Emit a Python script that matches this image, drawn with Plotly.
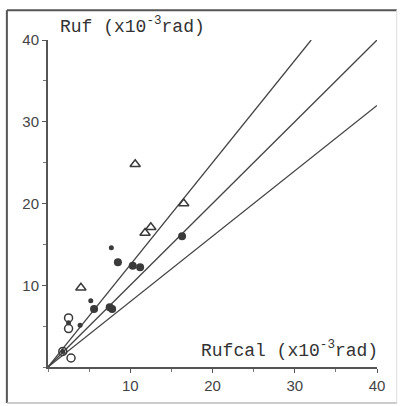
import plotly.graph_objects as go

# Data (x: Rufcal, y: Ruf, both x10^-3 rad)
tri_x = [4.0, 10.6, 11.8, 12.5, 16.5]
tri_y = [9.7, 24.8, 16.4, 17.1, 20.0]

big_x = [8.5, 10.3, 11.2, 16.3, 5.6, 7.5, 7.8]
big_y = [12.8, 12.4, 12.2, 16.0, 7.1, 7.3, 7.1]

small_x = [7.7, 5.2, 3.9, 2.5, 1.8]
small_y = [14.6, 8.1, 5.1, 5.4, 1.9]

open_x = [2.5, 2.5, 1.8, 2.8]
open_y = [6.0, 4.7, 1.9, 1.1]

line_slopes = [1.25, 1.0, 0.8]
line_xend = [32, 40, 40]

x_ticks = [10, 20, 30, 40]
y_ticks = [10, 20, 30, 40]

INK = "#3a3a3a"

fig = go.Figure()

for s, xe in zip(line_slopes, line_xend):
    fig.add_trace(go.Scatter(x=[0, xe], y=[0, s * xe], mode="lines",
                             line=dict(color="#444", width=1.3),
                             hoverinfo="skip", showlegend=False))

fig.add_trace(go.Scatter(x=tri_x, y=tri_y, mode="markers",
                         marker=dict(symbol="triangle-up-open", size=9,
                                     color=INK, line=dict(width=1.5, color=INK)),
                         showlegend=False))
fig.add_trace(go.Scatter(x=open_x, y=open_y, mode="markers",
                         marker=dict(symbol="circle-open", size=8,
                                     color=INK, line=dict(width=1.5, color=INK)),
                         showlegend=False))
fig.add_trace(go.Scatter(x=big_x, y=big_y, mode="markers",
                         marker=dict(symbol="circle", size=8, color=INK),
                         showlegend=False))
fig.add_trace(go.Scatter(x=small_x, y=small_y, mode="markers",
                         marker=dict(symbol="circle", size=5, color=INK),
                         showlegend=False))

axis_common = dict(
    range=[0, 40], showgrid=False, zeroline=False,
    showline=True, linecolor="#555", linewidth=2,
    ticks="outside", ticklen=4, tickwidth=1.3, tickcolor="#555",
    minor=dict(dtick=5, ticks="outside", ticklen=3, tickwidth=1, tickcolor="#777"),
    tickfont=dict(family="Liberation Sans", size=15, color="#444"),
)

fig.update_xaxes(tickvals=x_ticks, ticktext=[str(v) for v in x_ticks], **axis_common)
fig.update_yaxes(tickvals=y_ticks, ticktext=[str(v) for v in y_ticks], **axis_common)

mono = dict(family="Liberation Mono", size=18, color="#333")
fig.add_annotation(x=0.03, y=1.045, xref="paper", yref="paper", xanchor="left", yanchor="middle",
                   text="Ruf (x10<sup>-3</sup>rad)", showarrow=False, font=mono)
fig.add_annotation(x=1.01, y=0.052, xref="paper", yref="paper", xanchor="right", yanchor="middle",
                   text="Rufcal (x10<sup>-3</sup>rad)", showarrow=False, font=mono)

# outer frame
L, R, B, T = -0.125, 1.06, -0.11, 1.091
fig.add_shape(type="line", xref="paper", yref="paper", x0=L, x1=L, y0=B, y1=T,
              line=dict(color="#555", width=2))
fig.add_shape(type="line", xref="paper", yref="paper", x0=L, x1=R, y0=T, y1=T,
              line=dict(color="#555", width=2))
fig.add_shape(type="line", xref="paper", yref="paper", x0=R, x1=R, y0=B, y1=T,
              line=dict(color="#ddd", width=1))
fig.add_shape(type="line", xref="paper", yref="paper", x0=L, x1=R, y0=B, y1=B,
              line=dict(color="#bbb", width=1.5))

fig.update_layout(
    width=400, height=406,
    margin=dict(l=48, r=23, t=40, b=39),
    paper_bgcolor="white", plot_bgcolor="white",
)

fig.write_html("out.html")
